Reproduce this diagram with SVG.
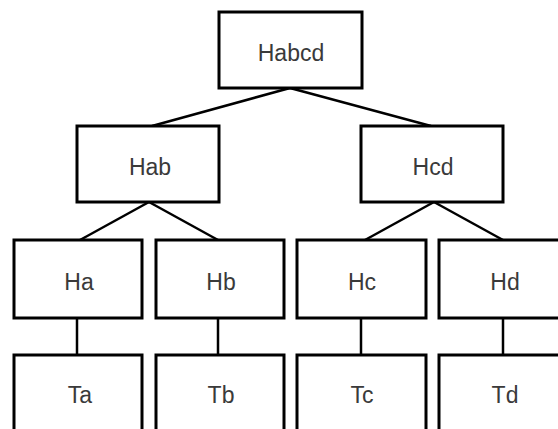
<svg xmlns="http://www.w3.org/2000/svg" width="558" height="429" viewBox="0 0 558 429">
<style>
.box{fill:#fff;stroke:#000;stroke-width:3}
.lbl{font-family:"Liberation Sans",Arial,sans-serif;font-size:23px;fill:#3a3a3a;text-anchor:middle}
.con{stroke:#000;stroke-width:2.5;fill:none}
</style>
<rect width="558" height="429" fill="#fff"/>
<g id="connectors">
<line class="con" x1="290" y1="88" x2="152" y2="126"/>
<line class="con" x1="290" y1="88" x2="431" y2="126"/>
<line class="con" x1="149" y1="202" x2="80" y2="240"/>
<line class="con" x1="149" y1="202" x2="218" y2="240"/>
<line class="con" x1="434" y1="202" x2="365" y2="240"/>
<line class="con" x1="434" y1="202" x2="503" y2="240"/>
<line class="con" x1="77" y1="318" x2="77" y2="355"/>
<line class="con" x1="218" y1="318" x2="218" y2="355"/>
<line class="con" x1="361" y1="318" x2="361" y2="355"/>
<line class="con" x1="503" y1="318" x2="503" y2="355"/>
</g>
<g id="Habcd"><rect class="box" x="219" y="12" width="143" height="76"/><text class="lbl" x="291" y="61">Habcd</text></g>
<g id="Hab"><rect class="box" x="77" y="126" width="142" height="76"/><text class="lbl" x="150" y="175">Hab</text></g>
<g id="Hcd"><rect class="box" x="361" y="126" width="142" height="76"/><text class="lbl" x="433" y="175">Hcd</text></g>
<g id="Ha"><rect class="box" x="14" y="240" width="128" height="78"/><text class="lbl" x="79" y="290">Ha</text></g>
<g id="Hb"><rect class="box" x="156" y="240" width="128" height="78"/><text class="lbl" x="221" y="290">Hb</text></g>
<g id="Hc"><rect class="box" x="297" y="240" width="129" height="78"/><text class="lbl" x="362" y="290">Hc</text></g>
<g id="Hd"><rect class="box" x="439" y="240" width="130" height="78"/><text class="lbl" x="505" y="290">Hd</text></g>
<g id="Ta"><rect class="box" x="14" y="355" width="128" height="85"/><text class="lbl" x="80" y="403">Ta</text></g>
<g id="Tb"><rect class="box" x="156" y="355" width="128" height="85"/><text class="lbl" x="221" y="403">Tb</text></g>
<g id="Tc"><rect class="box" x="297" y="355" width="129" height="85"/><text class="lbl" x="362" y="403">Tc</text></g>
<g id="Td"><rect class="box" x="439" y="355" width="130" height="85"/><text class="lbl" x="505" y="403">Td</text></g>
</svg>
